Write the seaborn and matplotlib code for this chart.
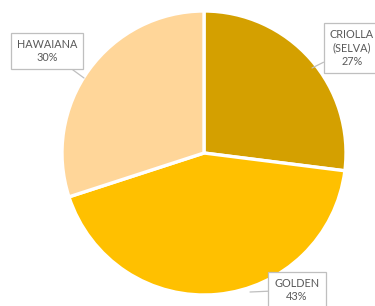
import matplotlib
matplotlib.use("Agg")
import matplotlib.pyplot as plt
import seaborn as sns

sns.set_theme(style="white")
plt.rcParams['font.family'] = ['Lato', 'DejaVu Sans']

categories = ["CRIOLLA (SELVA)", "GOLDEN", "HAWAIANA"]
label_lines = ["CRIOLLA\n(SELVA)", "GOLDEN", "HAWAIANA"]
values = [27, 43, 30]
colors = ["#D4A000", "#FFC000", "#FFD699"]

fig = plt.figure(figsize=(3.75, 3.06), dpi=100)
ax = fig.add_axes([0, 0, 1, 1])

cx, cy, r = 204, 306 - 153, 142
ax.pie(values, colors=colors, startangle=90, counterclock=False,
       center=(cx, cy), radius=r, frame=True,
       wedgeprops=dict(edgecolor="white", linewidth=2.4))
ax.set_xlim(0, 375)
ax.set_ylim(0, 306)
ax.set_aspect("equal")
ax.axis("off")

# label positions (text centre) and leader-line targets
text_pos = [(352, 306 - 48), (297, 306 - 290), (47, 306 - 51)]
arrow_to = [(312, 306 - 68), (250, 306 - 292), (84, 306 - 78)]
for lab, v, tp, at in zip(label_lines, values, text_pos, arrow_to):
    ax.annotate(f"{lab}\n{v}%", xy=at, xytext=tp, xycoords="data",
                ha="center", va="center", fontsize=7.8, color="#595959",
                linespacing=1.3,
                bbox=dict(boxstyle="square,pad=0.55", fc="white", ec="#BFBFBF", lw=0.9),
                arrowprops=dict(arrowstyle="-", color="#BFBFBF", lw=0.9,
                                shrinkA=0, shrinkB=0))

fig.savefig("out.png", dpi=100)
